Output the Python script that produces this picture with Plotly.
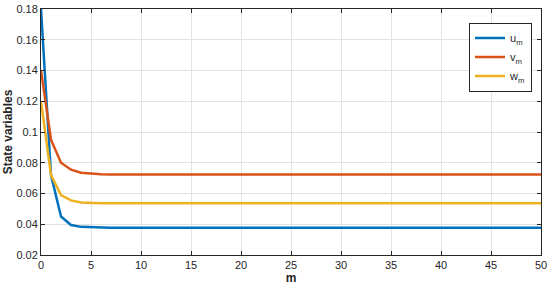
import plotly.graph_objects as go

m = list(range(51))

u_m = [0.18, 0.072, 0.045, 0.0395, 0.0383, 0.0380, 0.0379, 0.0378, 0.0378, 0.0378,
       0.0378, 0.0378, 0.0378, 0.0378, 0.0378, 0.0378, 0.0378, 0.0378, 0.0378, 0.0378,
       0.0378, 0.0378, 0.0378, 0.0378, 0.0378, 0.0378, 0.0378, 0.0378, 0.0378, 0.0378,
       0.0378, 0.0378, 0.0378, 0.0378, 0.0378, 0.0378, 0.0378, 0.0378, 0.0378, 0.0378,
       0.0378, 0.0378, 0.0378, 0.0378, 0.0378, 0.0378, 0.0378, 0.0378, 0.0378, 0.0378,
       0.0378]
v_m = [0.14, 0.095, 0.080, 0.0755, 0.0735, 0.0728, 0.0725, 0.0724, 0.0724, 0.0724,
       0.0724, 0.0724, 0.0724, 0.0724, 0.0724, 0.0724, 0.0724, 0.0724, 0.0724, 0.0724,
       0.0724, 0.0724, 0.0724, 0.0724, 0.0724, 0.0724, 0.0724, 0.0724, 0.0724, 0.0724,
       0.0724, 0.0724, 0.0724, 0.0724, 0.0724, 0.0724, 0.0724, 0.0724, 0.0724, 0.0724,
       0.0724, 0.0724, 0.0724, 0.0724, 0.0724, 0.0724, 0.0724, 0.0724, 0.0724, 0.0724,
       0.0724]
w_m = [0.12, 0.072, 0.059, 0.0555, 0.0542, 0.0538, 0.0537, 0.0536, 0.0536, 0.0536,
       0.0536, 0.0536, 0.0536, 0.0536, 0.0536, 0.0536, 0.0536, 0.0536, 0.0536, 0.0536,
       0.0536, 0.0536, 0.0536, 0.0536, 0.0536, 0.0536, 0.0536, 0.0536, 0.0536, 0.0536,
       0.0536, 0.0536, 0.0536, 0.0536, 0.0536, 0.0536, 0.0536, 0.0536, 0.0536, 0.0536,
       0.0536, 0.0536, 0.0536, 0.0536, 0.0536, 0.0536, 0.0536, 0.0536, 0.0536, 0.0536,
       0.0536]

names = ["u<sub>m</sub>", "v<sub>m</sub>", "w<sub>m</sub>"]
colors = ["#0072BD", "#D95319", "#EDB120"]

y_ticks = [0.02, 0.04, 0.06, 0.08, 0.1, 0.12, 0.14, 0.16, 0.18]
y_labels = ["0.02", "0.04", "0.06", "0.08", "0.1", "0.12", "0.14", "0.16", "0.18"]

fig = go.Figure()
for ys, name, c in zip([u_m, v_m, w_m], names, colors):
    fig.add_trace(go.Scatter(x=m, y=ys, mode="lines", name=name,
                             line=dict(color=c, width=2.5)))

axis_common = dict(
    showgrid=True, gridcolor="#e3e3e3", gridwidth=1,
    showline=True, linecolor="#262626", linewidth=1, mirror="ticks",
    ticks="inside", ticklen=4, tickcolor="#262626",
    zeroline=False, automargin=False,
    tickfont=dict(size=11, color="#262626"),
)

fig.update_layout(
    width=550, height=291,
    margin=dict(l=41, r=9, t=9, b=36),
    paper_bgcolor="white", plot_bgcolor="white",
    font=dict(family="Liberation Sans, Arial, sans-serif", color="#262626"),
    xaxis=dict(range=[0, 50], dtick=5, tick0=0,
               title=dict(text="<b>m</b>", font=dict(size=12), standoff=3),
               **axis_common),
    yaxis=dict(range=[0.02, 0.18], tickvals=y_ticks, ticktext=y_labels,
               title=dict(text="<b>State variables</b>", font=dict(size=12), standoff=1),
               **axis_common),
    legend=dict(x=0.982, y=0.945, xanchor="right", yanchor="top",
                bordercolor="#262626", borderwidth=1, bgcolor="white",
                font=dict(size=11), itemwidth=30, tracegroupgap=0),
    showlegend=True,
)

# ページ既定の余白(8px)を消して図を左上に合わせる
fig.write_html("out.html", config={"displayModeBar": False},
               post_script="document.body.style.margin='0';")
